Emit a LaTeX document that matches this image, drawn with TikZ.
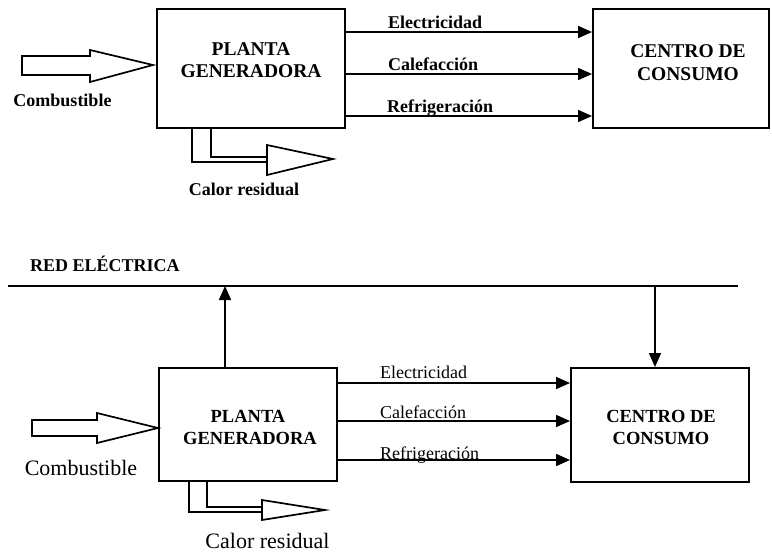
\documentclass[tikz,border=0pt]{standalone}
\usepackage{fontspec}
\setmainfont{Liberation Serif}
\usetikzlibrary{arrows.meta}
\tikzset{
  box/.style={draw, line width=2pt, rectangle, inner sep=0pt},
  arr/.style={line width=1.7pt, -{Triangle[length=14pt,width=12pt]}},
  line/.style={line width=1.7pt},
  hollow/.style={line width=1.7pt, line join=miter},
  lblB/.style={font=\fontsize{18}{20}\selectfont\bfseries, anchor=base west, inner sep=0pt},
  lblR/.style={font=\fontsize{18}{20}\selectfont, anchor=base west, inner sep=0pt},
  boxtxtA/.style={font=\fontsize{19.5}{22}\selectfont\bfseries, anchor=base, inner sep=0pt},
  boxtxtB/.style={font=\fontsize{18.5}{22}\selectfont\bfseries, anchor=base, inner sep=0pt},
  capB/.style={font=\fontsize{18}{20}\selectfont\bfseries, anchor=base, inner sep=0pt},
  capR/.style={font=\fontsize{22}{24}\selectfont, anchor=base, inner sep=0pt},
}
\begin{document}
\begin{tikzpicture}[x=1pt, y=-1pt]
\useasboundingbox (0,0) rectangle (772,552);

% ---------------- top diagram ----------------
\node[box, minimum width=188pt, minimum height=119pt] (P1) at (251,68.5) {};
\node[box, minimum width=176pt, minimum height=119pt] (C1) at (681,68.5) {};
\node[boxtxtA] (P1a) at (251,55) {PLANTA};
\node[boxtxtA] (P1b) at (251,77) {GENERADORA};
\node[boxtxtA] (C1a) at (688,57) {CENTRO DE};
\node[boxtxtA] (C1b) at (688,80) {CONSUMO};

\draw[arr] ([yshift=-24pt]P1.north east) -- ([yshift=-24pt]C1.north west);
\draw[arr] ([yshift=-66pt]P1.north east) -- ([yshift=-66pt]C1.north west);
\draw[arr] ([yshift=-108pt]P1.north east) -- ([yshift=-108pt]C1.north west);
\node[lblB] (E1) at (388,28) {Electricidad};
\node[lblB] (K1) at (388,70) {Calefacción};
\node[lblB] (F1) at (387,112) {Refrigeración};

% combustible hollow arrow
\draw[hollow] (22,56) -- (90,56) -- (90,50) -- (153,65) -- (90,82) -- (90,75) -- (22,75) -- cycle;
\node[capB] (Cb1) at (62.5,106) {Combustible};

% calor residual
\coordinate (H1) at (267,160);
\draw[line] (P1.south -| 192,0) -- (192,162) -- (H1 |- 0,162);
\draw[line] (P1.south -| 211,0) -- (211,157) -- (H1 |- 0,157);
\draw[hollow] (267,145) -- (333,159) -- (267,175) -- cycle;
\node[capB] (Cr1) at (244,195) {Calor residual};

% ---------------- bottom diagram ----------------
\node[font=\fontsize{18}{20}\selectfont\bfseries, anchor=base west, inner sep=0pt] (RED) at (30,271) {RED ELÉCTRICA};
\coordinate (RL) at (8,286);
\coordinate (RR) at (738,286);
\draw[line] (RL) -- (RR);

\node[box, minimum width=178pt, minimum height=113pt] (P2) at (248,424.5) {};
\node[box, minimum width=178pt, minimum height=114pt] (C2) at (660,425) {};
\node[boxtxtB] (P2a) at (248,422) {PLANTA};
\node[boxtxtB] (P2b) at (250,444) {GENERADORA};
\node[boxtxtB] (C2a) at (661,422) {CENTRO DE};
\node[boxtxtB] (C2b) at (661,444) {CONSUMO};

\coordinate (U1) at (225,286);
\coordinate (D1) at (655,286);
\draw[arr] (P2.north -| U1) -- (U1);
\draw[arr] (D1) -- (C2.north -| D1);

\draw[arr] ([yshift=-16pt]P2.north east) -- ([yshift=-16pt]C2.north west);
\draw[arr] ([yshift=-54pt]P2.north east) -- ([yshift=-54pt]C2.north west);
\draw[arr] ([yshift=-93pt]P2.north east) -- ([yshift=-93pt]C2.north west);
\node[lblR] (E2) at (380,378) {Electricidad};
\node[lblR] (K2) at (380,418) {Calefacción};
\node[lblR] (F2) at (380,459) {Refrigeración};

\draw[hollow] (32,420) -- (97,420) -- (97,413) -- (158,428) -- (97,443) -- (97,436) -- (32,436) -- cycle;
\node[capR] (Cb2) at (81,475) {Combustible};

\coordinate (H2) at (262,510);
\draw[line] (P2.south -| 189,0) -- (189,512) -- (H2 |- 0,512);
\draw[line] (P2.south -| 207,0) -- (207,507) -- (H2 |- 0,507);
\draw[hollow] (262,500) -- (325,510) -- (262,520) -- cycle;
\node[capR] (Cr2) at (267.5,548) {Calor residual};
\end{tikzpicture}
\end{document}
